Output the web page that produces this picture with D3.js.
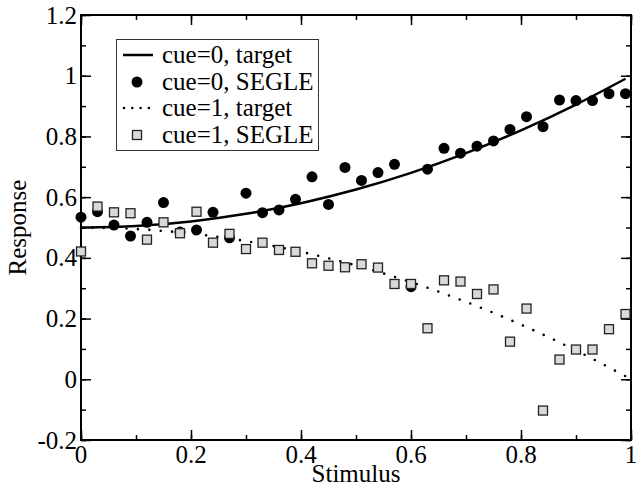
<!DOCTYPE html>
<html>
<head>
<meta charset="utf-8">
<script src="https://cdn.jsdelivr.net/npm/d3@7/dist/d3.min.js"></script>
<style>
  body { margin: 0; background: #fff; }
  svg text { font-family: 'Liberation Serif', 'Times New Roman', Tinos, 'DejaVu Serif', serif; }
</style>
</head>
<body>
<script>
// stimulus values for the SEGLE points
const stimulus = [0, 0.03, 0.06, 0.09, 0.12, 0.15, 0.18, 0.21, 0.24, 0.27, 0.30, 0.33,
  0.36, 0.39, 0.42, 0.45, 0.48, 0.51, 0.54, 0.57, 0.60, 0.63, 0.66, 0.69, 0.72, 0.75,
  0.78, 0.81, 0.84, 0.87, 0.90, 0.93, 0.96, 0.99];

const cue0Segle = [0.534, 0.552, 0.508, 0.472, 0.517, 0.582, 0.485, 0.492, 0.550, 0.466,
  0.613, 0.549, 0.558, 0.593, 0.667, 0.576, 0.698, 0.655, 0.681, 0.708, 0.305, 0.692,
  0.761, 0.745, 0.768, 0.785, 0.823, 0.865, 0.832, 0.920, 0.918, 0.918, 0.941, 0.941];

const cue1Segle = [0.421, 0.569, 0.550, 0.547, 0.460, 0.517, 0.481, 0.552, 0.450, 0.479,
  0.429, 0.450, 0.426, 0.420, 0.382, 0.374, 0.369, 0.379, 0.368, 0.314, 0.314, 0.168,
  0.326, 0.322, 0.281, 0.296, 0.124, 0.233, -0.103, 0.065, 0.098, 0.098, 0.165, 0.215];

// target curves, read at a few stimulus values
const targetX = [0, 0.1, 0.2, 0.3, 0.4, 0.5, 0.6, 0.7, 0.8, 0.9, 0.99];
const cue0Target = [0.5, 0.505, 0.52, 0.545, 0.58, 0.625, 0.68, 0.745, 0.82, 0.905, 0.99];
const cue1Target = [0.5, 0.495, 0.48, 0.455, 0.42, 0.375, 0.32, 0.255, 0.18, 0.095, 0.01];

const xTicks = [0, 0.2, 0.4, 0.6, 0.8, 1];
const yTicks = [-0.2, 0, 0.2, 0.4, 0.6, 0.8, 1, 1.2];
const legendLabels = ["cue=0, target", "cue=0, SEGLE", "cue=1, target", "cue=1, SEGLE"];

const width = 637, height = 486;
const margin = { top: 15, right: 6, bottom: 46, left: 81 };
const fontSize = 25;
const serif = "'Liberation Serif', 'Times New Roman', Tinos, 'DejaVu Serif', serif";

const x = d3.scaleLinear().domain([0, 1]).range([margin.left, width - margin.right]);
const y = d3.scaleLinear().domain([-0.2, 1.2]).range([height - margin.bottom, margin.top]);

const svg = d3.select("body").append("svg")
  .attr("width", width)
  .attr("height", height)
  .attr("font-family", serif);

// ticks on all four sides, pointing inward
const minorX = d3.range(0, 1.0001, 0.1);
const minorY = d3.range(-0.2, 1.2001, 0.1);
function tickAxis(axisFn, scale, ticks, size) {
  return axisFn(scale).tickValues(ticks).tickSize(size).tickFormat("");
}
const x0 = x.range()[0], x1 = x.range()[1], y0 = y.range()[0], y1 = y.range()[1];

[[d3.axisTop, y0], [d3.axisBottom, y1]].forEach(([fn, py]) => {
  svg.append("g").attr("transform", `translate(0,${py})`)
    .call(tickAxis(fn, x, minorX, 5));
  svg.append("g").attr("transform", `translate(0,${py})`)
    .call(tickAxis(fn, x, xTicks, 10));
});
[[d3.axisRight, x0], [d3.axisLeft, x1]].forEach(([fn, px]) => {
  svg.append("g").attr("transform", `translate(${px},0)`)
    .call(tickAxis(fn, y, minorY, 5));
  svg.append("g").attr("transform", `translate(${px},0)`)
    .call(tickAxis(fn, y, yTicks, 10));
});
svg.selectAll(".domain").remove();
svg.selectAll(".tick line").attr("stroke", "#000").attr("stroke-width", 1.5);

// tick labels
svg.append("g").selectAll("text").data(xTicks).join("text")
  .attr("x", d => x(d)).attr("y", y0 + 23)
  .attr("text-anchor", "middle").attr("font-size", fontSize)
  .attr("font-family", serif)
  .text(d => String(d));
svg.append("g").selectAll("text").data(yTicks).join("text")
  .attr("x", x0 - 4).attr("y", d => y(d) + 8.5)
  .attr("text-anchor", "end").attr("font-size", fontSize)
  .attr("font-family", serif)
  .text(d => String(+d.toFixed(1)));

// frame
svg.append("rect")
  .attr("x", x0).attr("y", y1)
  .attr("width", x1 - x0).attr("height", y0 - y1)
  .attr("fill", "none").attr("stroke", "#000").attr("stroke-width", 2);

// axis titles
svg.append("text")
  .attr("x", (x0 + x1) / 2).attr("y", height - 4)
  .attr("text-anchor", "middle").attr("font-size", fontSize)
  .attr("font-family", serif)
  .text("Stimulus");
svg.append("text")
  .attr("transform", `translate(26,${(y0 + y1) / 2}) rotate(-90)`)
  .attr("text-anchor", "middle").attr("font-size", fontSize)
  .attr("font-family", serif)
  .text("Response");

// series
const line = d3.line().x(d => x(d[0])).y(d => y(d[1])).curve(d3.curveMonotoneX);

svg.append("path")
  .datum(targetX.map((v, i) => [v, cue0Target[i]]))
  .attr("d", line)
  .attr("fill", "none").attr("stroke", "#000").attr("stroke-width", 2.5);

svg.append("g").selectAll("circle").data(stimulus).join("circle")
  .attr("cx", d => x(d)).attr("cy", (d, i) => y(cue0Segle[i]))
  .attr("r", 5.5).attr("fill", "#000");

svg.append("path")
  .datum(targetX.map((v, i) => [v, cue1Target[i]]))
  .attr("d", line)
  .attr("fill", "none").attr("stroke", "#000").attr("stroke-width", 2.6)
  .attr("stroke-linecap", "round").attr("stroke-dasharray", "0,11.4");

const sq = 9;
svg.append("g").selectAll("rect").data(stimulus).join("rect")
  .attr("x", d => x(d) - sq / 2).attr("y", (d, i) => y(cue1Segle[i]) - sq / 2)
  .attr("width", sq).attr("height", sq)
  .attr("fill", "#d9d9d9").attr("stroke", "#222").attr("stroke-width", 1.3);

// legend
const legend = svg.append("g");
legend.append("rect")
  .attr("x", 116.5).attr("y", 39.5).attr("width", 202).attr("height", 111)
  .attr("fill", "#fff").attr("stroke", "#333").attr("stroke-width", 1);
const rowY = [55, 82, 108, 135];
legendLabels.forEach((label, i) => {
  const cy = rowY[i];
  if (i === 0) {
    legend.append("line").attr("x1", 123).attr("x2", 153).attr("y1", cy).attr("y2", cy)
      .attr("stroke", "#000").attr("stroke-width", 2.5);
  } else if (i === 1) {
    legend.append("circle").attr("cx", 137).attr("cy", cy).attr("r", 5.5).attr("fill", "#000");
  } else if (i === 2) {
    legend.append("line").attr("x1", 124).attr("x2", 153).attr("y1", cy).attr("y2", cy)
      .attr("stroke", "#000").attr("stroke-width", 2.6)
      .attr("stroke-linecap", "round").attr("stroke-dasharray", "0,8.3");
  } else {
    legend.append("rect").attr("x", 137 - sq / 2).attr("y", cy - sq / 2)
      .attr("width", sq).attr("height", sq)
      .attr("fill", "#d9d9d9").attr("stroke", "#222").attr("stroke-width", 1.3);
  }
  legend.append("text").attr("x", 162).attr("y", cy + 8)
    .attr("font-size", fontSize).attr("font-family", serif).text(label);
});
</script>
</body>
</html>
